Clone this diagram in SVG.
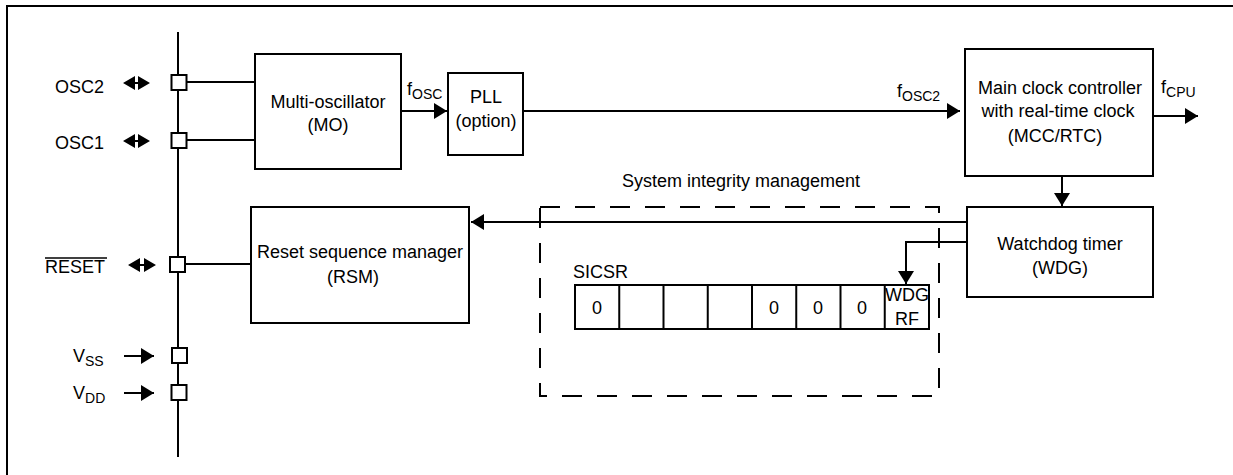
<svg xmlns="http://www.w3.org/2000/svg" width="1233" height="475" viewBox="0 0 1233 475">
<style>
text{font-family:"Liberation Sans",Arial,sans-serif;font-size:18px;fill:#000}
.box{fill:#fff;stroke:#000;stroke-width:2}
.pin{fill:#fff;stroke:#000;stroke-width:2}
.ln{fill:none;stroke:#000;stroke-width:2}
.dash{fill:none;stroke:#000;stroke-width:2;stroke-dasharray:20 15}
.sub{font-size:14px}
.mid{text-anchor:middle}
</style>
<defs>
<marker id="ah" markerUnits="userSpaceOnUse" markerWidth="14" markerHeight="16" refX="13" refY="8" orient="auto">
<path d="M0,0 L13,8 L0,16 Z" fill="#000"/>
</marker>
</defs>
<path class="ln" d="M7,480 V6 H1240"/>
<g id="bus">
<line class="ln" x1="178" y1="32" x2="178" y2="457"/>
</g>
<g id="connectors">
<line class="ln" x1="187" y1="82" x2="255" y2="82"/>
<line class="ln" x1="187" y1="140" x2="255" y2="140"/>
<line class="ln" x1="186" y1="264" x2="251" y2="264"/>
<line class="ln" x1="401" y1="111" x2="447" y2="111" marker-end="url(#ah)"/>
<line class="ln" x1="523" y1="111" x2="960" y2="111" marker-end="url(#ah)"/>
<line class="ln" x1="1153" y1="116" x2="1198" y2="116" marker-end="url(#ah)"/>
<line class="ln" x1="1062" y1="176" x2="1062" y2="206" marker-end="url(#ah)"/>
<line class="ln" x1="967" y1="222" x2="471" y2="222" marker-end="url(#ah)"/>
<polyline class="ln" points="967,242 906,242 906,284" marker-end="url(#ah)"/>
<line class="ln" x1="124" y1="356" x2="154" y2="356" marker-end="url(#ah)"/>
<line class="ln" x1="124" y1="393" x2="154" y2="393" marker-end="url(#ah)"/>
<path d="M123,83 L135,76 L135,90 Z M150,83 L138,76 L138,90 Z" fill="#000"/>
<line class="ln" x1="134" y1="83" x2="139" y2="83"/>
<path d="M123,141 L135,134 L135,148 Z M150,141 L138,134 L138,148 Z" fill="#000"/>
<line class="ln" x1="134" y1="141" x2="139" y2="141"/>
<path d="M128,265 L140,258 L140,272 Z M156,265 L144,258 L144,272 Z" fill="#000"/>
<line class="ln" x1="139" y1="265" x2="145" y2="265"/>
<text x="407" y="95">f<tspan class="sub" dy="4">OSC</tspan></text>
<text x="897" y="97">f<tspan class="sub" dy="4">OSC2</tspan></text>
<text x="1161" y="93">f<tspan class="sub" dy="4">CPU</tspan></text>
</g>
<g id="pin-osc2">
<rect class="pin" x="171.5" y="75" width="15" height="15"/>
<text x="55" y="92.5">OSC2</text>
</g>
<g id="pin-osc1">
<rect class="pin" x="171.5" y="133" width="15" height="15"/>
<text x="55" y="149">OSC1</text>
</g>
<g id="pin-reset">
<rect class="pin" x="170" y="257" width="15" height="15"/>
<text x="45" y="273">RESET</text>
<line x1="45" y1="258" x2="107" y2="258" stroke="#000" stroke-width="1.5"/>
</g>
<g id="pin-vss">
<rect class="pin" x="172" y="348" width="15" height="15"/>
<text x="73" y="362">V<tspan class="sub" dy="4">SS</tspan></text>
</g>
<g id="pin-vdd">
<rect class="pin" x="171.5" y="385" width="15" height="15"/>
<text x="73" y="399">V<tspan class="sub" dy="4">DD</tspan></text>
</g>
<g id="mo">
<rect class="box" x="255" y="54" width="146" height="115"/>
<text class="mid" x="328" y="108">Multi-oscillator</text>
<text class="mid" x="328" y="131">(MO)</text>
</g>
<g id="pll">
<rect class="box" x="448" y="73" width="75" height="82"/>
<text class="mid" x="486" y="103">PLL</text>
<text class="mid" x="486" y="127">(option)</text>
</g>
<g id="mcc">
<rect class="box" x="965" y="49" width="188" height="127"/>
<text class="mid" x="1060" y="94">Main clock controller</text>
<text class="mid" x="1058" y="117">with real-time clock</text>
<text class="mid" x="1055" y="142">(MCC/RTC)</text>
</g>
<g id="wdg">
<rect class="box" x="967" y="207" width="186" height="90"/>
<text class="mid" x="1060" y="250">Watchdog timer</text>
<text class="mid" x="1060" y="274">(WDG)</text>
</g>
<g id="rsm">
<rect class="box" x="251" y="207" width="218" height="116"/>
<text class="mid" x="360" y="258">Reset sequence manager</text>
<text class="mid" x="353" y="283">(RSM)</text>
</g>
<g id="sim">
<rect class="dash" x="540" y="207" width="399" height="189"/>
<text class="mid" x="741" y="187">System integrity management</text>
</g>
<g id="sicsr">
<text x="573" y="278">SICSR</text>
<rect class="box" x="575" y="285" width="354" height="44"/>
<path class="ln" d="M619.25,285V329M663.5,285V329M707.75,285V329M752,285V329M796.25,285V329M840.5,285V329M884.75,285V329"/>
<text class="mid" x="597" y="314">0</text>
<text class="mid" x="774" y="314">0</text>
<text class="mid" x="818" y="314">0</text>
<text class="mid" x="862" y="314">0</text>
<text class="mid" x="907" y="301">WDG</text>
<text class="mid" x="907" y="325">RF</text>
</g>
</svg>
